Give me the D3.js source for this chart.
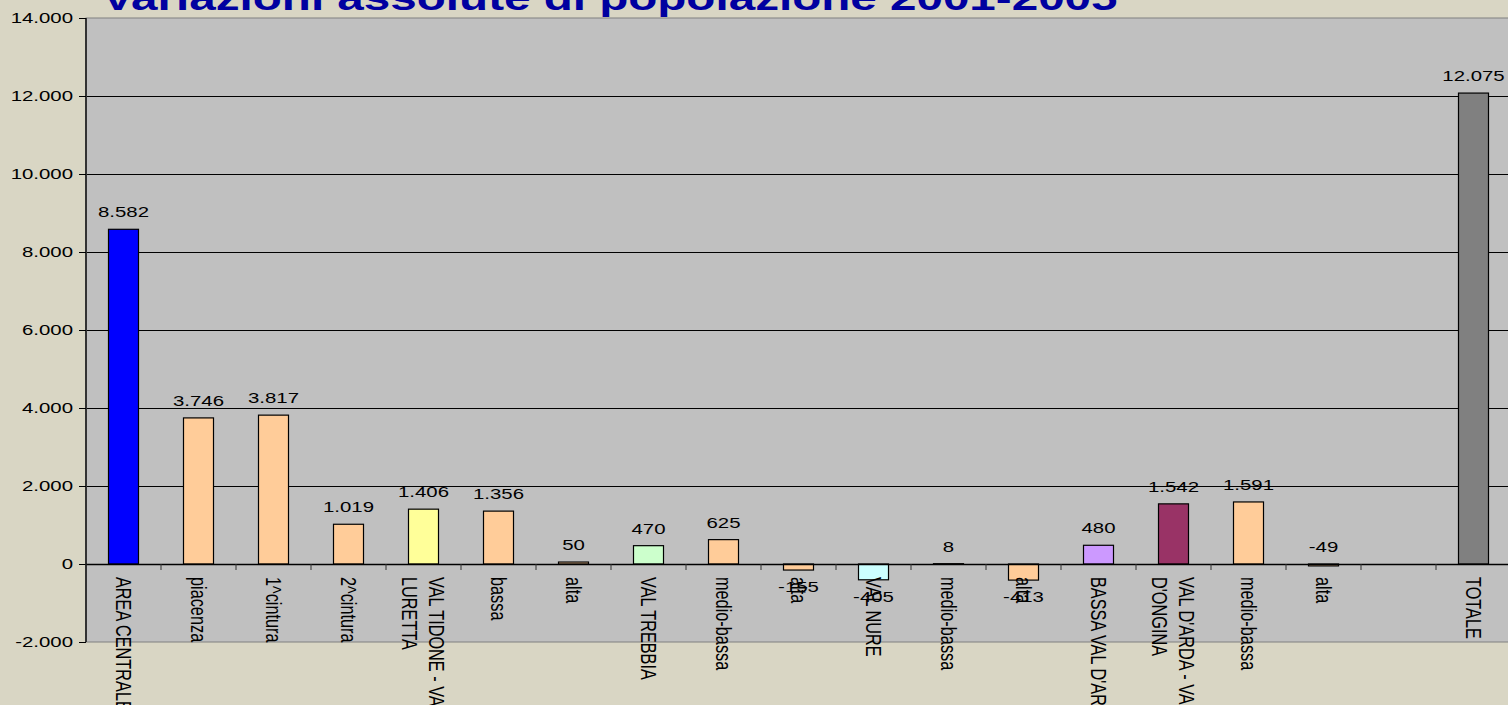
<!DOCTYPE html>
<html>
<head>
<meta charset="utf-8">
<script src="https://cdn.jsdelivr.net/npm/d3@7"></script>
<style>
    html, body { margin: 0; padding: 0; background: #d9d6c4; overflow: hidden; }
    svg { display: block; font-family: "Liberation Sans", Arial, sans-serif; }
</style>
</head>
<body>
<svg id="chart"></svg>
<script>
// category labels, "\n" marks where the label wraps
const categories = [
    "AREA CENTRALE", "piacenza", "1^cintura", "2^cintura",
    "VAL TIDONE - VAL\nLURETTA", "bassa", "alta",
    "VAL TREBBIA", "medio-bassa", "alta",
    "VAL NURE", "medio-bassa", "alta",
    "BASSA VAL D'ARDA",
    "VAL D'ARDA - VAL\nD'ONGINA", "medio-bassa", "alta",
    "", "TOTALE"
];

const values = [
    8582, 3746, 3817, 1019,
    1406, 1356, 50,
    470, 625, -155,
    -405, 8, -413,
    480,
    1542, 1591, -49,
    null, 12075
];

const barColors = [
    "#0000ff", "#ffcc99", "#ffcc99", "#ffcc99",
    "#ffff99", "#ffcc99", "#ffcc99",
    "#ccffcc", "#ffcc99", "#ffcc99",
    "#ccffff", "#ffcc99", "#ffcc99",
    "#cc99ff",
    "#993366", "#ffcc99", "#ffcc99",
    null, "#808080"
];

const yTicks = [-2000, 0, 2000, 4000, 6000, 8000, 10000, 12000, 14000];

const title = "Variazioni assolute di popolazione 2001-2005";

// the original picture was stretched sideways, so text gets the same stretch
const stretch = 1.36;

const W = 1508, H = 705;
const plot = { left: 86, top: 18, bottom: 642, step: 75 };

const svg = d3.select("#chart").attr("width", W).attr("height", H);

svg.append("rect").attr("width", W).attr("height", H).attr("fill", "#d9d6c4");

const x = d3.scaleBand()
    .domain(d3.range(categories.length))
    .range([plot.left, plot.left + plot.step * categories.length])
    .paddingInner(0.6)
    .paddingOuter(0.3);

const y = d3.scaleLinear()
    .domain([-2000, 14000])
    .range([plot.bottom, plot.top]);

// italian style numbers, plain hyphen for the minus
const fmt = d3.formatLocale({
    decimal: ",", thousands: ".", grouping: [3], currency: ["", "€"], minus: "-"
}).format(",d");

// plot area
svg.append("rect")
    .attr("x", plot.left)
    .attr("y", plot.top)
    .attr("width", x.range()[1] - plot.left)
    .attr("height", plot.bottom - plot.top)
    .attr("fill", "#c0c0c0")
    .attr("stroke", "#808080")
    .attr("stroke-width", 1);

// horizontal gridlines (top and bottom are the plot border)
svg.append("g")
    .selectAll("line")
    .data(yTicks.filter(t => t > -2000 && t < 14000))
    .join("line")
    .attr("x1", plot.left)
    .attr("x2", W)
    .attr("y1", d => Math.round(y(d)) + 0.5)
    .attr("y2", d => Math.round(y(d)) + 0.5)
    .attr("stroke", "#000")
    .attr("stroke-width", 1);

// y axis
const yAxis = svg.append("g");
yAxis.append("line")
    .attr("x1", plot.left).attr("x2", plot.left)
    .attr("y1", plot.top).attr("y2", plot.bottom)
    .attr("stroke", "#333").attr("stroke-width", 2);

yAxis.selectAll("line.tick")
    .data(yTicks)
    .join("line")
    .attr("class", "tick")
    .attr("x1", plot.left - 7).attr("x2", plot.left)
    .attr("y1", d => Math.round(y(d)) + 0.5)
    .attr("y2", d => Math.round(y(d)) + 0.5)
    .attr("stroke", "#000");

yAxis.selectAll("text")
    .data(yTicks)
    .join("text")
    .attr("transform", d => `translate(${plot.left - 13},${y(d)}) scale(${stretch},1)`)
    .attr("text-anchor", "end")
    .attr("dy", "0.36em")
    .attr("font-size", 15)
    .attr("fill", "#000")
    .text(d => fmt(d));

// bars
const items = values.map((v, i) => ({ i, v, color: barColors[i], label: categories[i] }));

svg.append("g")
    .selectAll("rect")
    .data(items.filter(d => d.v !== null))
    .join("rect")
    .attr("x", d => x(d.i))
    .attr("width", x.bandwidth())
    .attr("y", d => y(Math.max(d.v, 0)))
    .attr("height", d => Math.abs(y(d.v) - y(0)))
    .attr("fill", d => d.color)
    .attr("stroke", "#000")
    .attr("stroke-width", 1.2);

// category axis on the zero line
svg.append("line")
    .attr("x1", plot.left).attr("x2", W)
    .attr("y1", y(0) + 0.5).attr("y2", y(0) + 0.5)
    .attr("stroke", "#000").attr("stroke-width", 1.5);

svg.append("g")
    .selectAll("line")
    .data(d3.range(categories.length + 1))
    .join("line")
    .attr("x1", d => plot.left + d * plot.step)
    .attr("x2", d => plot.left + d * plot.step)
    .attr("y1", y(0))
    .attr("y2", y(0) + 6)
    .attr("stroke", "#333");

// data labels: above the bar, below it for the larger negative ones
svg.append("g")
    .selectAll("text")
    .data(items.filter(d => d.v !== null))
    .join("text")
    .attr("transform", d => {
        const cx = x(d.i) + x.bandwidth() / 2;
        const by = (d.v >= 0 || d.v > -100) ? y(Math.max(d.v, 0)) - 12 : y(d.v) + 22;
        return `translate(${cx},${by}) scale(${stretch},1)`;
    })
    .attr("text-anchor", "middle")
    .attr("font-size", 15)
    .attr("fill", "#000")
    .text(d => fmt(d.v));

// rotated category labels, reading downwards (cut by the bottom edge like the original)
const lineH = 19.5;
const labels = svg.append("g")
    .selectAll("text")
    .data(items.filter(d => d.label))
    .join("text")
    .attr("transform", d => `translate(${x(d.i) + x.bandwidth() / 2},${y(0) + 13}) scale(${stretch},1) rotate(90)`)
    .attr("text-anchor", "start")
    .attr("font-size", 16.3)
    .attr("fill", "#000");

labels.each(function (d) {
    const lines = d.label.split("\n");
    const t = d3.select(this);
    lines.forEach((line, k) => {
        t.append("tspan")
            .attr("x", 0)
            .attr("y", (k - (lines.length - 1) / 2) * lineH)
            .attr("dy", "0.36em")
            .text(line);
    });
});

// title, cut off at the top like the original
svg.append("text")
    .attr("transform", `translate(102,10) scale(${stretch},1)`)
    .attr("font-size", 35)
    .attr("font-weight", "bold")
    .attr("fill", "#0000a0")
    .text(title);
</script>
</body>
</html>
